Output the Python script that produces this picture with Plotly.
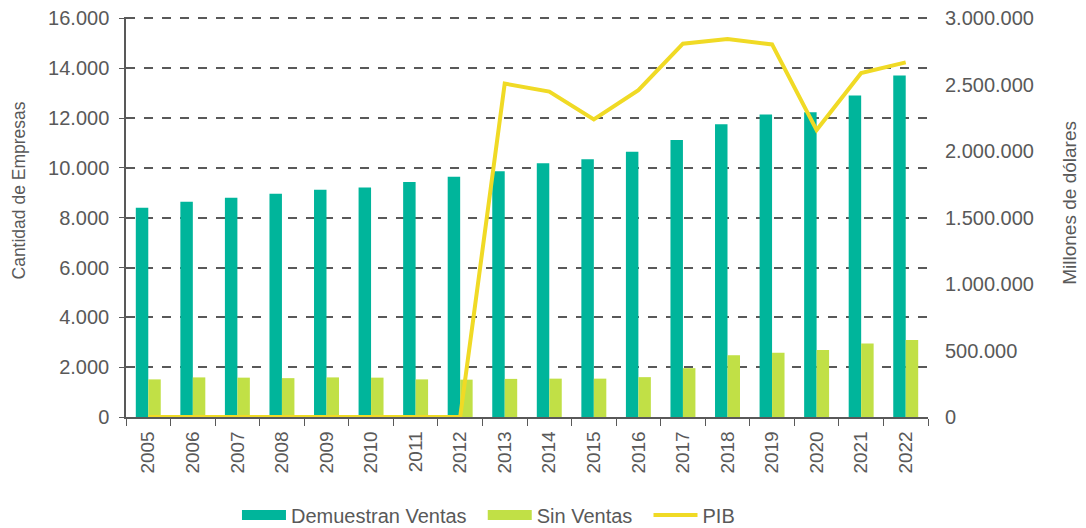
import plotly.graph_objects as go

years = [str(y) for y in range(2005, 2023)]
demuestran = [8400, 8640, 8800, 8960, 9120, 9210, 9440, 9650, 9870, 10190,
              10350, 10650, 11120, 11750, 12150, 12240, 12910, 13710]
sin_ventas = [1510, 1590, 1580, 1560, 1590, 1580, 1510, 1500, 1530, 1540,
              1540, 1600, 1960, 2480, 2580, 2690, 2950, 3090]
pib = [0, 0, 0, 0, 0, 0, 0, 0, 2510000, 2450000,
       2240000, 2460000, 2810000, 2845000, 2805000, 2160000, 2590000, 2670000]

grey = "#595959"
teal = "#00B59B"
lime = "#C1E046"
yellow = "#F0DA25"
font = "Liberation Sans, Arial, sans-serif"
nb = "\u00a0\u00a0"

fig = go.Figure()
fig.add_trace(go.Bar(x=years, y=demuestran, name="Demuestran Ventas", showlegend=False,
                     marker=dict(color=teal, line=dict(width=0))))
fig.add_trace(go.Bar(x=years, y=sin_ventas, name="Sin Ventas", showlegend=False,
                     marker=dict(color=lime, line=dict(width=0))))
fig.add_trace(go.Scatter(x=years, y=pib, name="PIB", yaxis="y2", mode="lines",
                         showlegend=False, line=dict(color=yellow, width=4)))
# legend entries (wide rectangles as in the original)
fig.add_trace(go.Scatter(x=[None], y=[None], name="Demuestran Ventas" + nb, mode="lines",
                         line=dict(color=teal, width=11)))
fig.add_trace(go.Scatter(x=[None], y=[None], name="Sin Ventas" + nb, mode="lines",
                         line=dict(color=lime, width=11)))
fig.add_trace(go.Scatter(x=[None], y=[None], name="PIB", mode="lines",
                         line=dict(color=yellow, width=4)))

fig.update_layout(
    width=1078, height=520,
    margin=dict(l=118, r=158, t=9, b=111, autoexpand=False),
    paper_bgcolor="white", plot_bgcolor="white",
    separators=",.",
    barmode="group", bargap=0.44, bargroupgap=0,
    font=dict(family=font, color=grey, size=20),
    showlegend=True,
    legend=dict(orientation="h", xref="container", yref="container",
                x=0.2124, xanchor="left", y=0.025, yanchor="middle",
                font=dict(size=20, color=grey), traceorder="normal", itemwidth=44),
    xaxis=dict(type="category", showline=True, linecolor=grey, linewidth=1.5,
               ticks="outside", tickson="boundaries", ticklen=7, tickcolor=grey,
               tickangle=-90, tickfont=dict(size=19, color=grey), showgrid=False,
               ticklabelstandoff=5, automargin=False),
    yaxis=dict(range=[0, 16060], tick0=0, dtick=2000, tickformat=",d",
               showline=True, linecolor=grey, linewidth=1.5,
               ticks="outside", ticklen=5, tickcolor=grey, ticklabelstandoff=6,
               ticklabeloverflow="allow",
               showgrid=True, gridcolor=grey, gridwidth=1.5, griddash="dash",
               zeroline=False, tickfont=dict(size=20, color=grey), automargin=False),
    yaxis2=dict(range=[0, 3011250], tick0=0, dtick=500000, tickformat=",d",
                overlaying="y", side="right", showgrid=False, showline=False,
                zeroline=False, ticks="", ticklabelstandoff=16,
                ticklabeloverflow="allow",
                tickfont=dict(size=20, color=grey), automargin=False),
    annotations=[
        dict(text="Cantidad de Empresas", xref="paper", yref="paper",
             x=-0.1328, y=0.5675, xanchor="center", yanchor="middle",
             textangle=-90, showarrow=False, font=dict(size=17.5, color=grey)),
        dict(text="Millones de dólares", xref="paper", yref="paper",
             x=1.176, y=0.536, xanchor="center", yanchor="middle",
             textangle=-90, showarrow=False, font=dict(size=19, color=grey)),
    ],
)

fig.write_html("out.html")
